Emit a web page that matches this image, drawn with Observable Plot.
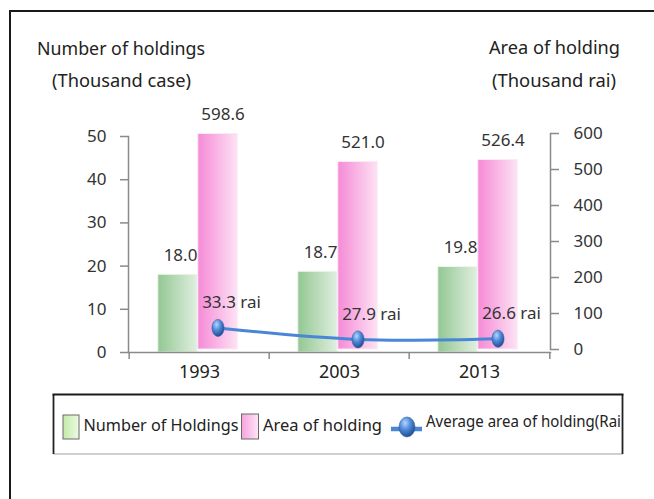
<!DOCTYPE html>
<html>
<head>
<meta charset="utf-8">
<script src="https://cdn.jsdelivr.net/npm/d3@7"></script>
<script src="https://cdn.jsdelivr.net/npm/@observablehq/plot@0.6"></script>
<style>
  html, body { margin: 0; padding: 0; background: #fff; overflow: hidden; }
  #wrap { position: relative; width: 654px; height: 499px; overflow: hidden; font-family: "Noto Sans", sans-serif; }
  #frameBox { position: absolute; left: 9px; top: 10px; width: 700px; height: 600px; border-left: 2px solid #1a1a1a; border-top: 2px solid #1a1a1a; }
  #chart { position: absolute; left: 0; top: 0; }
  #overlay { position: absolute; left: 0; top: 0; pointer-events: none; }
</style>
</head>
<body>
<div id="wrap">
  <div id="frameBox"></div>
  <div id="chart"></div>
  <svg id="overlay" width="654" height="499"></svg>
</div>
<script>
// ---- data ----
const years = ["1993", "2003", "2013"];
const holdings = [18.0, 18.7, 19.8];          // thousand cases (left axis)
const area = [598.6, 521.0, 526.4];           // thousand rai (right axis)
const avgLabels = [33.3, 27.9, 26.6];         // labelled average area (rai)
const avgPlotted = [60, 28, 30];              // where the markers sit, read on the right axis
const leftTicks = [0, 10, 20, 30, 40, 50];
const rightTicks = [0, 100, 200, 300, 400, 500, 600];
const leftTitle = ["Number of holdings", "(Thousand case)"];
const rightTitle = ["Area of holding", "(Thousand rai)"];
const legendLabels = ["Number of Holdings", "Area of holding", "Average area of holding(Rai"];

const ratio = 600 / 50;
const rows = years.map((y, i) => ({
  year: y,
  holdings: holdings[i],
  areaScaled: area[i] / ratio,
  areaLabel: area[i].toFixed(1),
  avgPos: avgPlotted[i] / ratio,
  avgLabel: avgLabels[i].toFixed(1) + " rai"
}));

const W = 654, H = 400, mL = 128, mR = 104, mT = 136, mB = 48;
const bw = (W - mL - mR) / years.length;

const defsMark = () => {
  const g = d3.create("svg:g");
  const defs = g.append("defs");
  const lg = (id, c1, c2) => {
    const l = defs.append("linearGradient").attr("id", id).attr("x1", "0").attr("x2", "1").attr("y1", "0").attr("y2", "0");
    l.append("stop").attr("offset", "0").attr("stop-color", c1);
    l.append("stop").attr("offset", "1").attr("stop-color", c2);
  };
  lg("gGreen", "#93c793", "#e0efe0");
  lg("gPink", "#f58ad6", "#fde2f4");
  const rg = defs.append("radialGradient").attr("id", "gBall").attr("cx", "0.38").attr("cy", "0.3").attr("r", "0.75");
  rg.append("stop").attr("offset", "0").attr("stop-color", "#b4d6ff");
  rg.append("stop").attr("offset", "0.45").attr("stop-color", "#4f8bd8");
  rg.append("stop").attr("offset", "1").attr("stop-color", "#1c4688");
  return g.node();
};

const ellipse = {
  draw(ctx) {
    const rx = 6, ry = 8.5, k = 0.5523;
    ctx.moveTo(rx, 0);
    ctx.bezierCurveTo(rx, ry * k, rx * k, ry, 0, ry);
    ctx.bezierCurveTo(-rx * k, ry, -rx, ry * k, -rx, 0);
    ctx.bezierCurveTo(-rx, -ry * k, -rx * k, -ry, 0, -ry);
    ctx.bezierCurveTo(rx * k, -ry, rx, -ry * k, rx, 0);
    ctx.closePath();
  }
};

const axisGray = "#8a8a8a";
const txt = "#333";

const chart = Plot.plot({
  width: W, height: H,
  marginLeft: mL, marginRight: mR, marginTop: mT, marginBottom: mB,
  style: { fontFamily: "Noto Sans", fontSize: "17px", color: txt, background: "transparent" },
  x: { type: "band", domain: years, padding: 0 },
  y: { domain: [0, 50] },
  marks: [
    defsMark,
    Plot.barY(rows, { x: "year", y: "holdings", fill: "url(#gGreen)", stroke: "#eef7ee", strokeWidth: 1, insetLeft: 28.8, insetRight: 71.8 }),
    Plot.barY(rows, { x: "year", y: "areaScaled", fill: "url(#gPink)", stroke: "#fbeaf6", strokeWidth: 1, insetLeft: 68.8, insetRight: 31.8, dy: -3 }),
    Plot.frame({ anchor: "left", stroke: axisGray, strokeWidth: 1.5 }),
    Plot.frame({ anchor: "right", stroke: axisGray, strokeWidth: 1.5, dy: -3 }),
    Plot.frame({ anchor: "bottom", stroke: axisGray, strokeWidth: 1.5 }),
    Plot.ruleX(years, { x: d => d, dx: -bw / 2, y1: 0, y2: -1.6, stroke: axisGray, strokeWidth: 1.5 }),
    Plot.ruleX(years.slice(-1), { x: d => d, dx: bw / 2, y1: 0, y2: -1.6, stroke: axisGray, strokeWidth: 1.5 }),
    Plot.axisY(leftTicks, { anchor: "left", tickSize: 8, tickPadding: 14, stroke: axisGray, strokeWidth: 1.5, fill: txt, fontSize: 17, label: null }),
    Plot.axisY(rightTicks.map(v => v / ratio), { anchor: "right", tickFormat: d => String(Math.round(d * ratio)), tickSize: 8, tickPadding: 15, stroke: axisGray, strokeWidth: 1.5, fill: txt, fontSize: 17, dy: -3, label: null }),
    Plot.axisX({ tickSize: 0, tickPadding: 13, fontSize: 18, fill: "#222", label: null }),
    Plot.line(rows, { x: "year", y: "avgPos", dx: 18.5, dy: -3, stroke: "#4a86d6", strokeWidth: 3, curve: "catmull-rom" }),
    Plot.dot(rows, { x: "year", y: "avgPos", dx: 18.5, dy: -3, symbol: ellipse, r: 7, fill: "url(#gBall)", stroke: "#2b5ea8", strokeWidth: 0.6 }),
    Plot.text(rows, { x: "year", y: "holdings", text: d => d.holdings.toFixed(1), dx: -19, dy: -19, fontSize: 17, fill: txt }),
    Plot.text(rows, { x: "year", y: "areaScaled", text: "areaLabel", dx: 23.5, dy: -22, fontSize: 17, fill: txt }),
    Plot.text(rows, { x: "year", y: "avgPos", text: "avgLabel", dx: 32, dy: -28, fontSize: 17, fill: txt })
  ]
});
document.getElementById("chart").appendChild(chart);

// ---- titles and legend ----
const ov = d3.select("#overlay");
const odefs = ov.append("defs");
const olg = (id, c1, c2) => {
  const l = odefs.append("linearGradient").attr("id", id).attr("x1", "0").attr("x2", "1");
  l.append("stop").attr("offset", "0").attr("stop-color", c1);
  l.append("stop").attr("offset", "1").attr("stop-color", c2);
};
olg("lgGreen", "#c3eaa8", "#ecfae2");
olg("lgPink", "#f7a2df", "#fde6f6");
const org = odefs.append("radialGradient").attr("id", "lgBall").attr("cx", "0.38").attr("cy", "0.3").attr("r", "0.75");
org.append("stop").attr("offset", "0").attr("stop-color", "#b4d6ff");
org.append("stop").attr("offset", "0.45").attr("stop-color", "#4f8bd8");
org.append("stop").attr("offset", "1").attr("stop-color", "#1c4688");

const addText = (s, x, y, len, size) => ov.append("text")
  .attr("x", x).attr("y", y).attr("font-family", "Noto Sans").attr("font-size", size)
  .attr("fill", "#222").attr("textLength", len).attr("lengthAdjust", "spacingAndGlyphs").text(s);

addText(leftTitle[0], 37, 55, 168, 18);
addText(leftTitle[1], 52, 87, 139, 18);
addText(rightTitle[0], 489, 54, 131, 18);
addText(rightTitle[1], 492, 87, 124, 18);

// legend box
const box = { x0: 53.5, x1: 622.5, y0: 394.5, y1: 454 };
ov.append("line").attr("x1", box.x0).attr("x2", box.x1).attr("y1", box.y1).attr("y2", box.y1).attr("stroke", "#a0a0a0").attr("stroke-width", 1);
ov.append("line").attr("x1", box.x0).attr("x2", box.x0).attr("y1", box.y0).attr("y2", box.y1).attr("stroke", "#222").attr("stroke-width", 1.8);
ov.append("line").attr("x1", box.x1).attr("x2", box.x1).attr("y1", box.y0).attr("y2", box.y1).attr("stroke", "#222").attr("stroke-width", 1.8);
ov.append("line").attr("x1", box.x0 - 1).attr("x2", box.x1 + 1).attr("y1", box.y0).attr("y2", box.y0).attr("stroke", "#1a1a1a").attr("stroke-width", 2.2);

ov.append("rect").attr("x", 63).attr("y", 415).attr("width", 16).attr("height", 24).attr("fill", "url(#lgGreen)").attr("stroke", "#6a6a6a").attr("stroke-width", 1);
addText(legendLabels[0], 83.5, 431, 155, 17);
ov.append("rect").attr("x", 241.5).attr("y", 414).attr("width", 17).attr("height", 25).attr("fill", "url(#lgPink)").attr("stroke", "#6a6a6a").attr("stroke-width", 1);
addText(legendLabels[1], 263, 431, 119, 17);
ov.append("line").attr("x1", 391).attr("x2", 422).attr("y1", 429).attr("y2", 429).attr("stroke", "#4a86d6").attr("stroke-width", 4.5);
ov.append("ellipse").attr("cx", 407).attr("cy", 427).attr("rx", 8).attr("ry", 10).attr("fill", "url(#lgBall)").attr("stroke", "#2b5ea8").attr("stroke-width", 0.6);
addText(legendLabels[2], 426, 427, 195, 16);
</script>
</body>
</html>
